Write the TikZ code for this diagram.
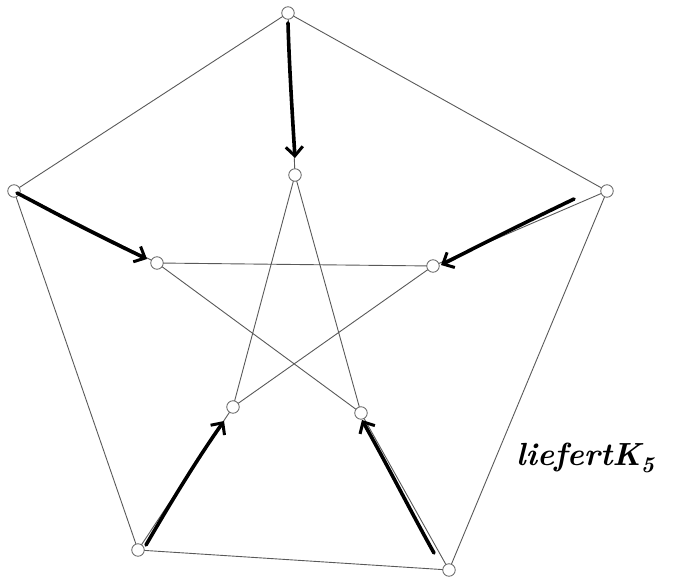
\documentclass[tikz,border=0pt]{standalone}
\usetikzlibrary{arrows.meta}
\begin{document}
\begin{tikzpicture}[x=1pt,y=-1pt,
  vtx/.style={circle,draw=black!60,fill=white,line width=0.8pt,minimum size=12.5pt,inner sep=0pt},
  edge/.style={draw=black!65,line width=0.9pt},
  hand/.style={draw=black,line width=3.6pt,line cap=round,line join=round,
    -{Straight Barb[length=9pt,width=17pt,line width=3pt]}},
  note/.style={font=\fontsize{32}{34}\selectfont\itshape\bfseries,inner sep=0pt}]
\useasboundingbox (0,0) rectangle (681,580);
% outer
\coordinate (o1) at (288,13);
\coordinate (o2) at (607,191);
\coordinate (o3) at (449,570);
\coordinate (o4) at (138,550);
\coordinate (o5) at (14,191);
% inner
\coordinate (i1) at (295,175);
\coordinate (i2) at (433,266);
\coordinate (i3) at (361,413);
\coordinate (i4) at (233,407);
\coordinate (i5) at (157,263);
% edges
\draw[edge] (o1)--(o2)--(o3)--(o4)--(o5)--cycle;
\draw[edge] (i1)--(i3)--(i5)--(i2)--(i4)--cycle;
\draw[edge] (o1)--(i1) (o2)--(i2) (o3)--(i3) (o4)--(i4) (o5)--(i5);
% vertices
\foreach \n in {o1,o2,o3,o4,o5,i1,i2,i3,i4,i5}
  \node[vtx] (v\n) at (\n) {};
% hand-drawn arrows
\draw[hand] ([yshift=-10pt]vo1.center) .. controls (289,60) and (292,110) .. ([yshift=17pt]vi1.center);
\draw[hand] ([xshift=3pt,yshift=-2pt]vo5.center) .. controls (50,210) and (70,222) .. ([xshift=-10pt,yshift=4pt]vi5.center);
\draw[hand] (574,199) .. controls (520,225) and (490,240) .. ([xshift=8pt,yshift=1pt]vi2.center);
\draw[hand] ([xshift=8pt,yshift=5pt]vo4.center) .. controls (175,495) and (200,455) .. ([xshift=-9pt,yshift=-14pt]vi4.center);
\draw[hand] (434,553) .. controls (410,510) and (390,470) .. ([xshift=1pt,yshift=-7pt]vi3.center);
% note
\node[note,anchor=west] (txt) at (516,458) {liefertK\textsubscript{5}};
\end{tikzpicture}
\end{document}
